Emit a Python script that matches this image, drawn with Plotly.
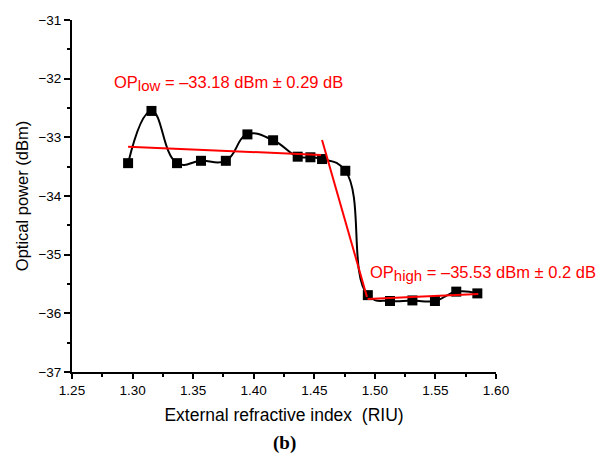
import plotly.graph_objects as go

# Measured data
x_ri = [1.2963, 1.3156, 1.3367, 1.3565, 1.3770, 1.3948, 1.4160, 1.4363, 1.4468, 1.4564,
        1.4756, 1.4942, 1.5125, 1.5310, 1.5496, 1.5672, 1.5846]
op_dbm = [-33.44, -32.55, -33.44, -33.40, -33.40, -32.95, -33.05, -33.33, -33.34, -33.37,
          -33.57, -35.69, -35.79, -35.78, -35.79, -35.63, -35.66]

# Linear fits (red)
low_fit_x = [1.2963, 1.4556]
low_fit_y = [-33.16, -33.30]
step_fit_x = [1.4564, 1.4935]
step_fit_y = [-33.045, -35.72]
high_fit_x = [1.4940, 1.5854]
high_fit_y = [-35.755, -35.67]

x_ticks = [1.25, 1.30, 1.35, 1.40, 1.45, 1.50, 1.55, 1.60]
y_ticks = [-31, -32, -33, -34, -35, -36, -37]

W, H = 603, 459
L, R, T, B = 72, 107, 20, 87
pw, ph = W - L - R, H - T - B

def px2paper(px, py):
    return (px - L) / pw, (H - B - py) / ph

fig = go.Figure()
fig.add_trace(go.Scatter(x=x_ri, y=op_dbm, mode="lines+markers",
                         line=dict(color="black", width=2, shape="spline", smoothing=1.3),
                         marker=dict(symbol="square", size=10, color="black"),
                         showlegend=False))
for fx, fy in [(low_fit_x, low_fit_y), (step_fit_x, step_fit_y), (high_fit_x, high_fit_y)]:
    fig.add_trace(go.Scatter(x=fx, y=fy, mode="lines",
                             line=dict(color="#ff0000", width=2), showlegend=False))

font_main = "Liberation Sans, Arial, sans-serif"
ax, ay = px2paper(112, 84)
fig.add_annotation(xref="paper", yref="paper", x=ax, y=ay, xanchor="left", yanchor="middle",
                   text="OP<sub><span style='font-size:15px'>low</span></sub> = –33.18 dBm ± 0.29 dB",
                   showarrow=False,
                   font=dict(family=font_main, size=16.5, color="#ff0000"))
ax, ay = px2paper(368, 273)
fig.add_annotation(xref="paper", yref="paper", x=ax, y=ay, xanchor="left", yanchor="middle",
                   text="OP<sub><span style='font-size:15px'>high</span></sub> = –35.53 dBm ± 0.2 dB",
                   showarrow=False,
                   font=dict(family=font_main, size=16.5, color="#ff0000"))
ax, ay = px2paper(284, 443)
fig.add_annotation(xref="paper", yref="paper", x=ax, y=ay, xanchor="center", yanchor="middle",
                   text="<b>(b)</b>", showarrow=False,
                   font=dict(family="Liberation Serif, Times New Roman, serif", size=19, color="black"))

fig.update_layout(
    width=W, height=H,
    margin=dict(l=L, r=R, t=T, b=B),
    paper_bgcolor="white", plot_bgcolor="white",
    font=dict(family=font_main, size=13.5, color="black"),
)
fig.update_xaxes(range=[1.25, 1.60], tickvals=x_ticks, ticktext=[f"{v:.2f}" for v in x_ticks],
                 showline=True, linecolor="black", linewidth=2, showgrid=False, zeroline=False,
                 ticks="outside", ticklen=5, tickwidth=2, tickcolor="black",
                 minor=dict(dtick=0.025, tick0=1.25, ticks="outside", ticklen=3, tickwidth=2, tickcolor="black"),
                 title=dict(text="External refractive index&nbsp;&nbsp;(RIU)", font=dict(size=17.5), standoff=12))
fig.update_yaxes(range=[-37, -31], tickvals=y_ticks, ticktext=[f"−{abs(v)}" for v in y_ticks],
                 showline=True, linecolor="black", linewidth=2, showgrid=False, zeroline=False,
                 ticks="outside", ticklen=6, tickwidth=2, tickcolor="black",
                 minor=dict(dtick=0.5, tick0=-37, ticks="outside", ticklen=3, tickwidth=2, tickcolor="black"),
                 title=dict(text="Optical power (dBm)", font=dict(size=16.5), standoff=6))

fig.write_html("out.html")
